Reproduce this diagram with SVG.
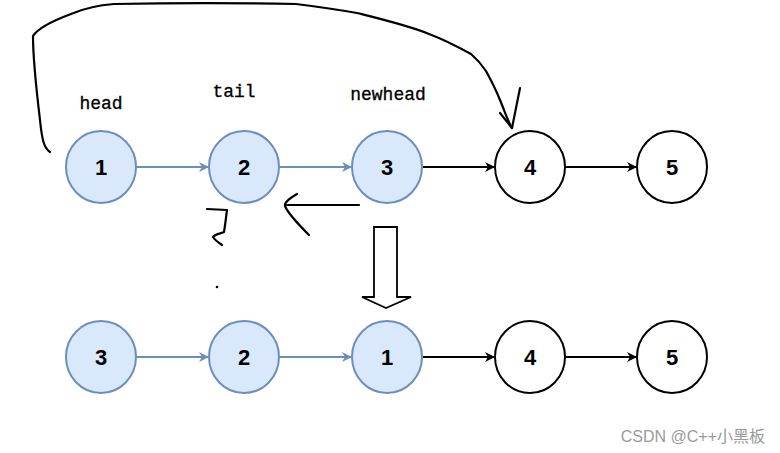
<svg xmlns="http://www.w3.org/2000/svg" width="780" height="453" viewBox="0 0 780 453">
<defs>
<style>
.blue ellipse{fill:#dae8fc;stroke:#6c8ebf;stroke-width:2}
.white ellipse{fill:#fff;stroke:#000;stroke-width:2}
.num{font-family:"Liberation Sans",Arial,sans-serif;font-weight:bold;font-size:22px;fill:#000;text-anchor:middle}
.lbl{font-family:"Liberation Mono","DejaVu Sans Mono",monospace;font-size:18px;fill:#000;text-anchor:middle;stroke:#000;stroke-width:0.3}
.ink{fill:none;stroke:#000;stroke-width:2.2;stroke-linecap:round;stroke-linejoin:round}
.ab{stroke:#6c8ebf;stroke-width:2;fill:none}
.ak{stroke:#000;stroke-width:2;fill:none}
</style>
<marker id="mb" markerWidth="10" markerHeight="10" refX="9" refY="5" orient="auto" markerUnits="userSpaceOnUse"><path d="M0,0 L10,5 L0,10 L3,5 Z" fill="#6c8ebf"/></marker>
<marker id="mk" markerWidth="10" markerHeight="10" refX="9" refY="5" orient="auto" markerUnits="userSpaceOnUse"><path d="M0,0 L10,5 L0,10 L3,5 Z" fill="#000"/></marker>
</defs>
<rect width="780" height="453" fill="#fff"/>
<g id="labels">
<text class="lbl" x="101" y="109">head</text>
<text class="lbl" x="234" y="97">tail</text>
<text class="lbl" x="388" y="100">newhead</text>
</g>
<g id="connectors">
<line class="ab" x1="136" y1="167" x2="208" y2="167" marker-end="url(#mb)"/>
<line class="ab" x1="279" y1="167" x2="351" y2="167" marker-end="url(#mb)"/>
<line class="ak" x1="422" y1="167" x2="494" y2="167" marker-end="url(#mk)"/>
<line class="ak" x1="565" y1="167" x2="636" y2="167" marker-end="url(#mk)"/>
<line class="ab" x1="136" y1="357" x2="208" y2="357" marker-end="url(#mb)"/>
<line class="ab" x1="279" y1="357" x2="351" y2="357" marker-end="url(#mb)"/>
<line class="ak" x1="422" y1="357" x2="494" y2="357" marker-end="url(#mk)"/>
<line class="ak" x1="565" y1="357" x2="636" y2="357" marker-end="url(#mk)"/>
</g>
<g id="n1"><g class="blue"><ellipse cx="101" cy="167" rx="35" ry="36"/></g><text class="num" x="101" y="175">1</text></g>
<g id="n2"><g class="blue"><ellipse cx="244" cy="167" rx="35" ry="36"/></g><text class="num" x="244" y="175">2</text></g>
<g id="n3"><g class="blue"><ellipse cx="387" cy="167" rx="35" ry="36"/></g><text class="num" x="387" y="175">3</text></g>
<g id="n4"><g class="white"><ellipse cx="530" cy="167" rx="35" ry="36"/></g><text class="num" x="530" y="175">4</text></g>
<g id="n5"><g class="white"><ellipse cx="672" cy="167" rx="35" ry="36"/></g><text class="num" x="672" y="175">5</text></g>
<g id="m3"><g class="blue"><ellipse cx="101" cy="357" rx="35" ry="36"/></g><text class="num" x="101" y="365">3</text></g>
<g id="m2"><g class="blue"><ellipse cx="244" cy="357" rx="35" ry="36"/></g><text class="num" x="244" y="365">2</text></g>
<g id="m1"><g class="blue"><ellipse cx="387" cy="357" rx="35" ry="36"/></g><text class="num" x="387" y="365">1</text></g>
<g id="m4"><g class="white"><ellipse cx="530" cy="357" rx="35" ry="36"/></g><text class="num" x="530" y="365">4</text></g>
<g id="m5"><g class="white"><ellipse cx="672" cy="357" rx="35" ry="36"/></g><text class="num" x="672" y="365">5</text></g>
<g id="ink">
<path class="ink" d="M50,152 C44,148 42,140 40,120 C37,95 33,60 33,36 C38,28 55,20 71,14 C85,8 100,5 114,4 C170,3 240,3 296,4 C320,7 340,10 357,13 C385,20 410,26 429,34 C445,40 460,48 471,54 C478,60 482,65 486,71 C492,82 496,90 500,100 C505,112 509,124 512,128"/>
<path class="ink" d="M500,113 L512,128 L520,88"/>
<path class="ink" d="M359,205 L287,205 M297,194 C290,198 284,202 285,206 C288,214 300,226 309,235"/>
<path class="ink" d="M207,209 L227,210 C226,218 225,226 224,232 C220,234 215,234 213,237 C215,240 219,243 222,245"/>
<circle cx="217" cy="287" r="1.3" fill="#000"/>
<path d="M374,227 L397,227 L397,297 L411,297 L386,308 L362,297 L374,297 Z" fill="#fff" stroke="#000" stroke-width="1.8" stroke-linejoin="miter"/>
</g>
<text x="765" y="442" text-anchor="end" font-family="'Liberation Sans','Noto Sans CJK SC',sans-serif" font-size="16" fill="#9a9a9a">CSDN @C++小黑板</text>
</svg>
